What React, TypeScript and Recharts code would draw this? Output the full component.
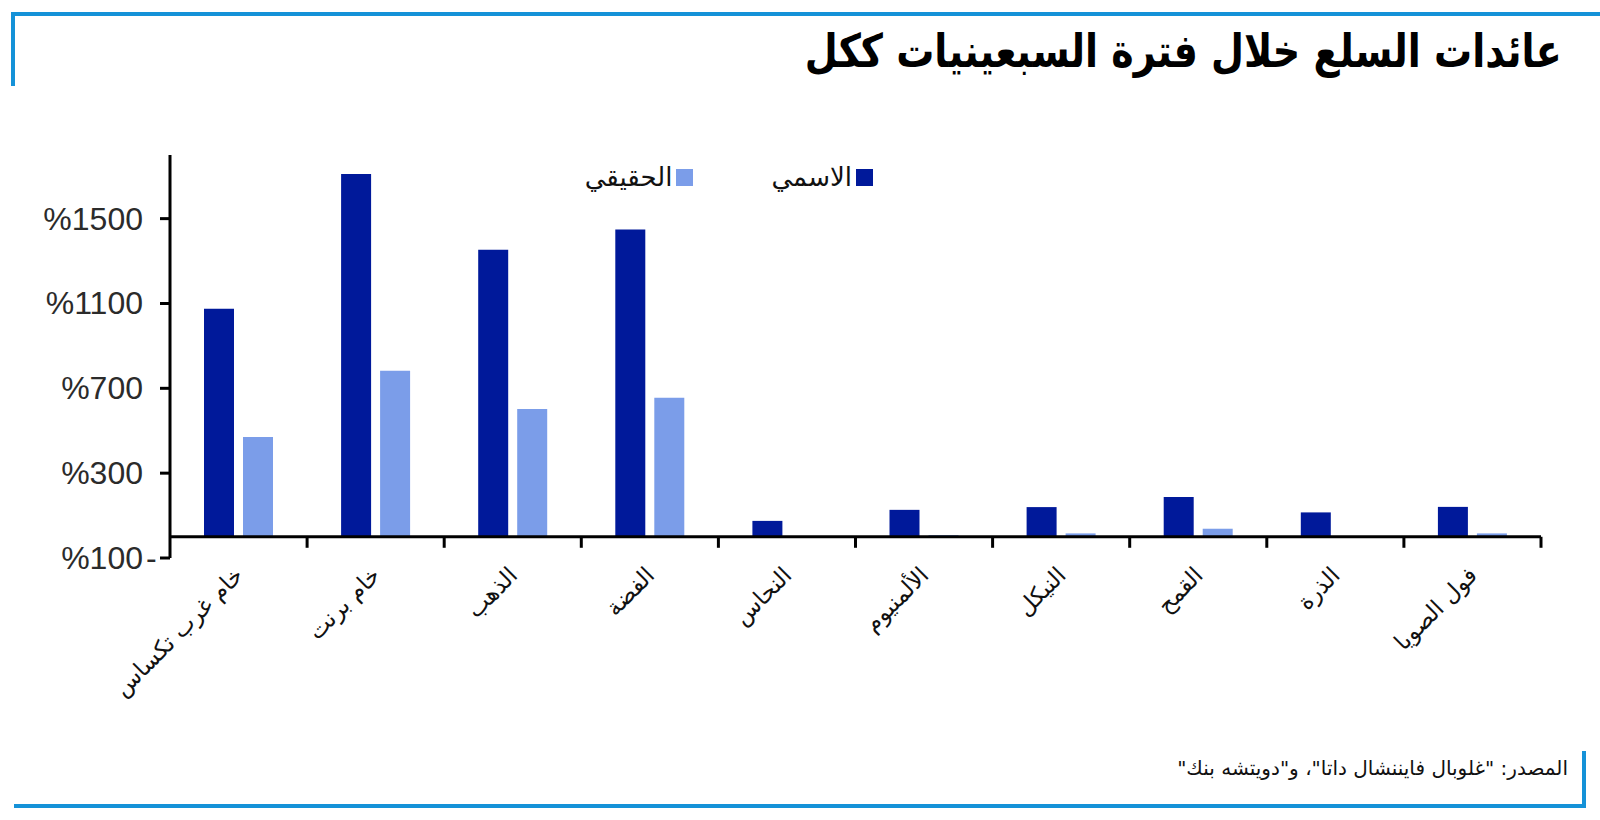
import * as React from "react";
import { BarChart, Bar, XAxis, YAxis, ReferenceLine } from "recharts";

const categories = [
  "خام غرب تكساس",
  "خام برنت",
  "الذهب",
  "الفضة",
  "النحاس",
  "الألمنيوم",
  "النيكل",
  "القمح",
  "الذرة",
  "فول الصويا",
];
const nominal = [1075, 1711, 1353, 1449, 75, 127, 140, 188, 115, 141];
const real = [471, 783, 603, 655, 2, 8, 16, 38, 1, 16];
const yTicks = [-100, 300, 700, 1100, 1500];
const seriesNames = ["الاسمي", "الحقيقي"];

const data = categories.map((name, i) => ({
  name,
  nominal: nominal[i],
  real: real[i],
}));

const W = 1600;
const H = 820;
const PLOT_LEFT = 170;
const PLOT_RIGHT = 1541;
const PLOT_TOP = 155;
const PLOT_BOTTOM = 558;
const Y_MIN = -100;
const Y_MAX = 1800;
const BAND = (PLOT_RIGHT - PLOT_LEFT) / categories.length;
const ZERO_Y =
  PLOT_TOP + ((Y_MAX - 0) / (Y_MAX - Y_MIN)) * (PLOT_BOTTOM - PLOT_TOP);

const DARK = "#00199a";
const LIGHT = "#7b9de9";
const BORDER = "#1592d8";
const ARABIC = "'DejaVu Sans', sans-serif";

function YTick(props: any) {
  const { x, y, payload } = props;
  const v = payload.value;
  const style = {
    fontFamily: "'Liberation Sans', Arial, sans-serif",
    fontSize: 32,
    fill: "#2b2b2b",
  };
  return (
    <g>
      <text x={x} y={y} textAnchor="end" dominantBaseline="central" {...style}>
        {`%${Math.abs(v)}`}
      </text>
      {v < 0 && (
        <text x={x + 3} y={y} textAnchor="start" dominantBaseline="central" {...style}>
          -
        </text>
      )}
    </g>
  );
}

function XTick(props: any) {
  const { x, payload } = props;
  const tx = x + BAND / 2;
  return (
    <g>
      <line x1={tx} x2={tx} y1={ZERO_Y} y2={ZERO_Y + 11} stroke="#000" strokeWidth={3} />
      <text
        transform={`translate(${x + 6},${ZERO_Y + 40}) rotate(-45)`}
        textAnchor="end"
        fontSize={23}
        fontFamily={ARABIC}
        fill="#111"
      >
        {payload.value}
      </text>
    </g>
  );
}

export default function App() {
  const colors = [DARK, LIGHT];
  return (
    <div style={{ position: "absolute", left: 0, top: 0, width: W, height: H, background: "#fff" }}>
      <div style={{ position: "absolute", left: 11, top: 12, width: 1589, height: 4, background: BORDER }} />
      <div style={{ position: "absolute", left: 11, top: 12, width: 4, height: 74, background: BORDER }} />
      <div style={{ position: "absolute", left: 14, top: 804, width: 1572, height: 4, background: BORDER }} />
      <div style={{ position: "absolute", left: 1582, top: 751, width: 4, height: 57, background: BORDER }} />
      <div
        style={{
          position: "absolute",
          right: 38,
          top: 24,
          direction: "rtl",
          fontFamily: ARABIC,
          fontWeight: 900,
          fontSize: 40,
          color: "#000",
          whiteSpace: "nowrap",
          transform: "scale(0.95, 1.15)",
          transformOrigin: "right top",
        }}
      >
        عائدات السلع خلال فترة السبعينيات ككل
      </div>
      <div
        style={{
          position: "absolute",
          right: 32,
          top: 756,
          direction: "rtl",
          fontFamily: ARABIC,
          fontSize: 20,
          color: "#111",
          whiteSpace: "nowrap",
        }}
      >
        المصدر: "غلوبال فايننشال داتا"، و"دويتشه بنك"
      </div>
      <div
        style={{
          position: "absolute",
          right: W - 873,
          top: 162,
          display: "flex",
          direction: "rtl",
          gap: 78,
          fontFamily: ARABIC,
          fontSize: 26,
          color: "#111",
        }}
      >
        {seriesNames.map((n, i) => (
          <div key={n} style={{ display: "flex", alignItems: "center", gap: 4 }}>
            <span style={{ width: 17, height: 17, background: colors[i], display: "inline-block" }} />
            <span>{n}</span>
          </div>
        ))}
      </div>
      <div style={{ position: "absolute", left: 0, top: 0 }}>
        <BarChart
          width={W}
          height={H}
          data={data}
          margin={{ top: PLOT_TOP, right: W - PLOT_RIGHT, left: 0, bottom: H - PLOT_BOTTOM - 200 }}
          barSize={30}
          barGap={9}
        >
          <XAxis
            dataKey="name"
            height={200}
            axisLine={false}
            tickLine={false}
            tickSize={0}
            tickMargin={0}
            interval={0}
            tick={<XTick />}
          />
          <YAxis
            width={PLOT_LEFT}
            domain={[Y_MIN, Y_MAX]}
            ticks={yTicks}
            axisLine={{ stroke: "#000", strokeWidth: 3 }}
            tickLine={{ stroke: "#000", strokeWidth: 3 }}
            tickSize={10}
            tickMargin={17}
            tick={<YTick />}
            allowDataOverflow
          />
          <Bar dataKey="nominal" name={seriesNames[0]} fill={DARK} isAnimationActive={false} />
          <Bar dataKey="real" name={seriesNames[1]} fill={LIGHT} isAnimationActive={false} />
          <ReferenceLine y={0} stroke="#000" strokeWidth={3} />
        </BarChart>
      </div>
    </div>
  );
}
